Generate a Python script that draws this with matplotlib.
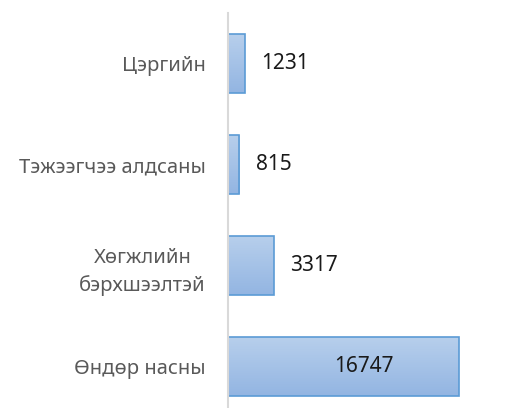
import numpy as np
import matplotlib
matplotlib.use('Agg')
from matplotlib import pyplot as plt

categories = ['Өндөр насны', 'Хөгжлийн\nбэрхшээлтэй', 'Тэжээгчээ алдсаны', 'Цэргийн']
values = [16747, 3317, 815, 1231]

plt.rcParams['font.family'] = ['Noto Sans', 'DejaVu Sans']

fig = plt.figure(figsize=(5.08, 4.08), dpi=100)
# axes runs a bit past the bottom edge, like the original
ax = fig.add_axes([228 / 508, -9 / 408, 280 / 508, 404 / 408])

xmax = 280 / (231 / 16747)
height = 0.575
grad = np.linspace(0, 1, 64).reshape(-1, 1)
cmap = matplotlib.colors.LinearSegmentedColormap.from_list(
    'bar', ['#93b5e2', '#b7cfec'])
for i, v in enumerate(values):
    y0, y1 = i - height / 2, i + height / 2
    ax.imshow(grad, cmap=cmap, aspect='auto', origin='lower',
              extent=(0, v, y0, y1), zorder=1)
    ax.barh(i, v, height=height, fill=False, edgecolor='#5b9bd5',
            linewidth=1.2, zorder=2)
    if v > 10000:
        ax.annotate(str(v), (v, i), xytext=(-47, 0), textcoords='offset points',
                    ha='right', va='center', fontsize=15, color='#1a1a1a',
                    fontweight='light')
    else:
        ax.annotate(str(v), (v, i), xytext=(12, 0), textcoords='offset points',
                    ha='left', va='center', fontsize=15, color='#1a1a1a',
                    fontweight='light')
ax.set_xlim(0, xmax)
ax.set_ylim(-0.5, len(categories) - 0.5)

ax.set_yticks(range(len(categories)))
labels = ax.set_yticklabels(categories, fontsize=14.5, color='#595959',
                            multialignment='center', fontweight='light')
for t in labels:
    t.set_linespacing(1.5)
ax.tick_params(axis='y', length=0, pad=16)
ax.set_xticks([])
for side in ['top', 'right', 'bottom']:
    ax.spines[side].set_visible(False)
ax.spines['left'].set_color('#d9d9d9')
ax.spines['left'].set_linewidth(1.5)

fig.savefig('out.png', dpi=100)
